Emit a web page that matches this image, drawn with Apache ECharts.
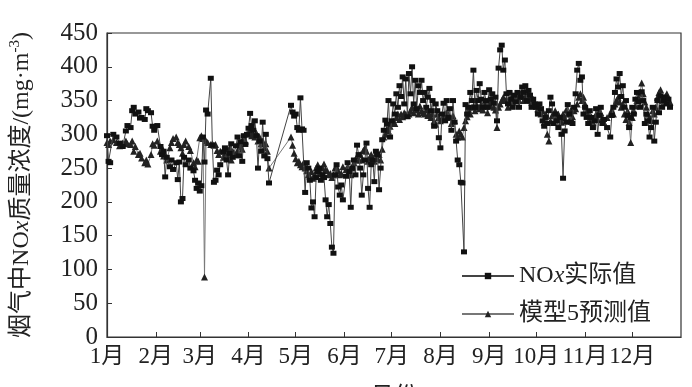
<!DOCTYPE html>
<html><head><meta charset="utf-8">
<script src="https://cdn.jsdelivr.net/npm/echarts@6/dist/echarts.min.js"></script>
<style>html,body{margin:0;padding:0;background:#fff}#c{width:692px;height:387px}</style>
</head><body><div id="c"></div>
<script>
// day of year (0 = Jan 1)
const days = [0,1,2,4,6,8,10,12,13,15,16,17,18,20,21,22,24,25,26,28,29,30,32,34,35,36,37,38,40,41,42,44,45,46,47,48,49,50,52,53,55,56,57,58,59,60,61,62,63,64,66,67,68,69,70,71,72,74,75,76,77,78,79,80,82,83,84,85,86,87,88,89,90,91,92,93,94,95,96,97,98,99,100,101,102,103,117,118,119,120,121,122,123,124,125,126,127,128,129,130,131,132,133,134,135,136,137,138,139,140,141,142,143,144,145,146,147,148,149,150,152,153,154,155,156,157,158,159,160,161,162,163,164,165,166,167,168,169,170,171,172,173,174,175,176,177,178,179,180,181,182,183,184,185,186,187,188,189,190,191,192,193,194,195,196,197,198,199,200,201,202,203,204,205,206,207,208,209,210,211,212,213,214,215,216,217,218,219,220,221,222,223,224,225,226,227,228,229,230,231,232,233,234,235,236,237,238,239,240,241,242,243,244,245,246,247,248,249,250,251,252,253,254,255,256,257,258,259,260,261,262,263,264,265,266,267,268,269,270,271,272,273,274,275,276,277,278,279,280,281,282,283,284,285,286,287,288,289,290,291,292,293,294,295,296,297,298,299,300,301,302,303,304,305,306,307,308,309,310,311,312,313,314,315,316,318,320,321,322,323,324,325,326,327,328,329,330,331,332,333,334,335,336,337,338,339,340,341,342,343,344,345,346,347,348,349,350,351,352,353,354,355,356,357,358];
const actualNOx = [298,260,258,300,296,287,282,305,313,310,335,340,330,333,324,325,322,338,335,332,312,306,313,282,270,275,237,266,252,262,248,258,233,259,200,205,266,255,262,250,246,232,220,228,216,224,296,259,336,330,383,284,229,232,247,240,255,274,280,262,240,272,286,266,283,296,268,289,260,298,285,300,309,331,313,306,320,298,250,290,275,318,268,300,264,228,343,333,327,330,310,306,354,308,306,214,258,250,232,191,200,178,236,245,250,232,240,236,203,178,196,168,133,124,240,255,222,210,225,203,238,258,245,192,250,262,240,284,270,250,210,240,262,287,220,192,255,262,230,275,270,218,250,292,306,321,315,350,296,320,345,330,360,340,372,356,385,345,382,326,390,360,400,345,380,338,372,362,380,350,362,340,355,368,335,350,312,345,335,295,280,330,346,320,350,325,338,306,350,318,290,262,255,229,228,126,344,330,340,362,350,395,340,365,350,375,352,340,362,350,340,366,352,360,346,355,320,398,425,432,395,410,360,345,362,352,340,358,348,362,340,355,370,362,372,350,365,358,340,352,345,340,330,345,338,320,312,325,316,335,355,345,316,330,320,310,325,300,235,305,318,344,330,318,316,340,360,395,405,380,385,330,340,325,316,335,325,310,320,338,300,328,340,316,322,310,296,328,340,362,382,370,390,356,372,340,350,328,310,325,340,330,352,362,348,340,363,350,316,330,320,296,310,340,290,318,350,332,357,340,350,355,345,352,340];
const predicted5 = [288,285,290,292,288,283,287,290,286,285,290,275,282,270,272,265,258,262,256,270,286,284,290,275,280,268,270,262,280,288,294,296,288,285,280,272,285,290,282,276,258,252,262,260,295,298,294,89,290,288,285,286,284,285,276,270,275,266,272,278,270,280,262,275,270,276,288,282,278,296,290,300,302,305,298,300,296,302,290,296,286,290,280,286,275,250,296,284,272,264,258,260,255,252,258,250,246,240,238,245,235,240,250,255,244,242,250,256,248,246,240,242,236,240,250,252,246,240,242,252,248,252,246,240,250,258,262,268,262,270,262,276,280,275,260,265,270,262,260,272,264,270,262,278,296,300,308,305,312,316,320,316,325,330,322,330,326,332,330,328,330,335,340,332,340,336,330,342,335,332,330,336,328,330,325,330,320,315,330,325,320,322,326,330,332,330,325,316,328,320,300,296,305,300,296,310,320,326,336,330,340,342,335,344,340,338,345,336,348,342,332,346,342,350,340,336,310,340,345,350,355,350,352,340,350,355,348,352,358,355,350,360,356,350,355,360,358,350,348,352,346,342,338,340,330,335,318,330,300,290,320,328,318,335,325,330,322,318,330,325,336,330,320,336,326,335,338,345,355,360,350,355,345,335,330,320,326,318,325,330,322,335,332,325,318,325,330,336,330,345,350,355,348,340,345,330,322,335,318,288,325,335,342,350,355,362,376,360,348,340,330,325,320,335,330,340,355,362,366,350,348,356,360,350,348];
const monthStarts = [0,31,59,90,120,151,181,212,243,273,304,334];
const monthLabels = ['1月','2月','3月','4月','5月','6月','7月','8月','9月','10月','11月','12月'];
const yTicks = [0,50,100,150,200,250,300,350,400,450];

const serif = '"Liberation Serif","Noto Sans CJK SC",serif';
const chart = echarts.init(document.getElementById('c'));
const actualData = days.map((d,i)=>[d, actualNOx[i]]);
const predData = days.map((d,i)=>[d, predicted5[i]]);
chart.setOption({
  animation:false,
  grid:{left:107,right:11,top:33,bottom:50,containLabel:false,outerBoundsMode:'none',show:true,borderColor:'#333',borderWidth:1.2,backgroundColor:'transparent'},
  legend:{
    orient:'vertical', left:456, top:259, itemWidth:52, itemHeight:8, itemGap:14,
    data:['NOx实际值','模型5预测值'],
    formatter: n => n==='NOx实际值' ? '{a|NO}{i|x}{a|实际值}' : '{a|模型5预测值}',
    textStyle:{color:'#222',fontSize:24,fontFamily:serif,
      rich:{a:{fontSize:24,fontFamily:serif,color:'#222'},i:{fontSize:24,fontFamily:serif,fontStyle:'italic',color:'#222'}}}
  },
  xAxis:{
    type:'value', min:0, max:365,
    name:'月份', nameLocation:'middle', nameGap:49,
    nameTextStyle:{fontSize:24,fontFamily:serif,color:'#222'},
    axisLine:{show:true,lineStyle:{color:'#333',width:1.2}},
    axisTick:{show:true,inside:true,length:5,customValues:monthStarts.slice(1),lineStyle:{color:'#333'}},
    axisLabel:{customValues:monthStarts,fontSize:23,fontFamily:serif,color:'#222',margin:8,hideOverlap:false,showMinLabel:true,showMaxLabel:true,
      formatter:v=>{const k=monthStarts.indexOf(Math.round(v));return k>=0?monthLabels[k]:'';}},
    splitLine:{show:false}
  },
  yAxis:{
    type:'value', min:0, max:450, interval:50,
    name:'{a|烟气中NO}{i|x}{a|质量浓度/(mg·m}{s|-3}{a|)}',
    nameLocation:'middle', nameGap:72, nameRotate:90,
    nameTextStyle:{color:'#222',rich:{a:{fontSize:24,fontFamily:serif,color:'#222'},i:{fontSize:24,fontFamily:serif,fontStyle:'italic',color:'#222'},s:{fontSize:15,fontFamily:serif,color:'#222',verticalAlign:'top',padding:[0,0,12,0]}}},
    axisLine:{show:true,lineStyle:{color:'#333',width:1.2}},
    axisTick:{show:true,inside:true,length:5,lineStyle:{color:'#333'}},
    axisLabel:{fontSize:25,fontFamily:serif,color:'#222',margin:9},
    splitLine:{show:false}
  },
  series:[
    {name:'模型5预测值',type:'line',data:predData,symbol:'triangle',symbolSize:7,
      itemStyle:{color:'#222'},lineStyle:{color:'#777',width:1},z:2},
    {name:'NOx实际值',type:'line',data:actualData,symbol:'rect',symbolSize:[6,5],
      itemStyle:{color:'#111'},lineStyle:{color:'#444',width:1},z:3}
  ]
});
</script></body></html>
